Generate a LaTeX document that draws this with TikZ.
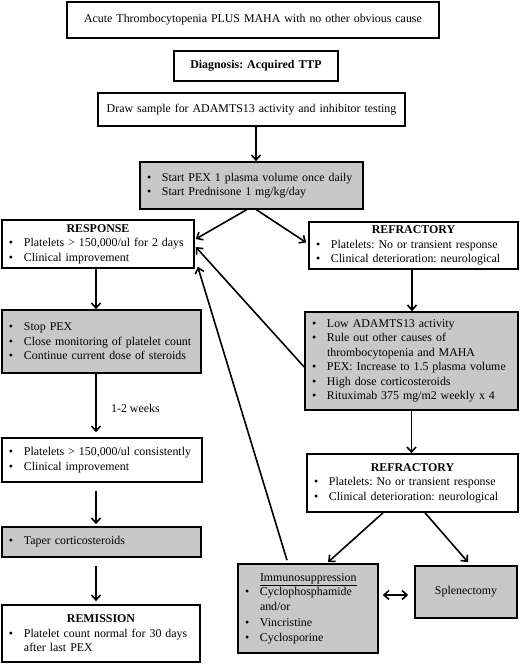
\documentclass[tikz,border=0pt]{standalone}
\usepackage{fontspec}
\setmainfont{Liberation Serif}
\usetikzlibrary{arrows.meta}
\definecolor{boxgray}{HTML}{C8C8C8}
\newcommand\bu[1]{\makebox[\linewidth][l]{\makebox[15pt][l]{\textbullet}#1}}
\newcommand\cont[1]{\makebox[\linewidth][l]{\hspace*{15pt}#1}}
\frenchspacing
\begin{document}
\begin{tikzpicture}[x=1pt,y=1pt,
  base/.style={font=\fontsize{11.9}{14.5}\selectfont},
  box/.style={base, draw, line width=1.6pt, inner xsep=7pt, inner ysep=0pt, align=left},
  gbox/.style={box, fill=boxgray},
  arr/.style={line width=1.6pt, -{Straight Barb[length=5pt,width=9pt]}},
  darr/.style={line width=1.6pt, {Straight Barb[length=5pt,width=9pt]}-{Straight Barb[length=5pt,width=9pt]}}]
\useasboundingbox (0,0) rectangle (520,-665);

\node[box, align=center, minimum width=372, minimum height=36, text width=358] (top) at (253,-20) {\mbox{Acute Thrombocytopenia PLUS MAHA with no other obvious cause}};
\node[box, align=center, minimum width=164, minimum height=30, text width=150] (diag) at (256,-66) {\mbox{\textbf{Diagnosis: Acquired TTP}}};
\node[box, align=center, minimum width=307, minimum height=33, text width=293] (sample) at (251.5,-109.5) {\mbox{Draw sample for ADAMTS13 activity and inhibitor testing}};

\node[gbox, minimum width=223, minimum height=47, text width=209] (pex) at (251.5,-185.5) {\bu{Start PEX 1 plasma volume once daily}\\ \bu{Start Prednisone 1 mg/kg/day}};

\node[box, minimum width=192, minimum height=48, text width=178] (resp) at (98,-244) {\makebox[\linewidth]{\textbf{RESPONSE}}\\ \bu{Platelets > 150,000/ul for 2 days}\\ \bu{Clinical improvement}};

\node[box, minimum width=209, minimum height=47, text width=195] (ref1) at (413.5,-245.5) {\makebox[\linewidth]{\textbf{REFRACTORY}}\\ \bu{Platelets: No or transient response}\\ \bu{Clinical deterioration: neurological}};

\node[gbox, minimum width=199, minimum height=63, text width=185] (stop) at (101.5,-341.5) {\bu{Stop PEX}\\ \bu{Close monitoring of platelet count}\\ \bu{Continue current dose of steroids}};

\node[box, minimum width=200, minimum height=44, text width=186] (plat) at (102,-460) {\bu{Platelets > 150,000/ul consistently}\\ \bu{Clinical improvement}};

\node[gbox, minimum width=199, minimum height=30, text width=185] (taper) at (101.5,-542) {\bu{Taper corticosteroids}};

\node[box, minimum width=198, minimum height=57, text width=184] (remis) at (101,-633.5) {\makebox[\linewidth]{\textbf{REMISSION}}\\ \bu{Platelet count normal for 30 days}\\ \cont{after last PEX}};

\node[gbox, minimum width=213, minimum height=98, text width=199] (low) at (411.5,-361) {\bu{Low ADAMTS13 activity}\\ \bu{Rule out other causes of}\\ \cont{thrombocytopenia and MAHA}\\ \bu{PEX: Increase to 1.5 plasma volume}\\ \bu{High dose corticosteroids}\\ \bu{Rituximab 375 mg/m2 weekly x 4}};

\node[box, minimum width=211, minimum height=58, text width=197] (ref2) at (412.5,-483) {\makebox[\linewidth]{\textbf{REFRACTORY}}\\ \bu{Platelets: No or transient response}\\ \bu{Clinical deterioration: neurological}};

\node[gbox, minimum width=140, minimum height=89, text width=126] (immuno) at (308,-608.5) {\cont{\underline{Immunosuppression}}\\ \bu{Cyclophosphamide}\\ \cont{and/or}\\[2pt] \bu{Vincristine}\\ \bu{Cyclosporine}};

\node[gbox, align=center, minimum width=102, minimum height=52, text width=88] (splen) at (466,-592) {Splenectomy};

\coordinate (lc) at (96,0);

\draw[arr] ([xshift=4.5pt]sample.south) -- ([xshift=4.5pt]sample.south |- pex.north);
\draw[arr] ([xshift=-5pt]pex.south) -- ([xshift=1pt,yshift=5pt]resp.east);
\draw[arr] ([xshift=5pt]pex.south) -- ([xshift=-2pt,yshift=3pt]ref1.west);
\draw[arr] ([xshift=-1.5pt]ref1.south) -- ([xshift=-1.5pt]ref1.south |- low.north);
\draw[arr] (low.south) -- (low.south |- ref2.north);
\draw[arr] ([xshift=-29.5pt]ref2.south) -- ([xshift=20pt,yshift=1pt]immuno.north);
\draw[arr] ([xshift=12.5pt]ref2.south) -- ([xshift=2pt,yshift=3pt]splen.north);
\draw[darr] ([xshift=4pt,yshift=13.5pt]immuno.east) -- ([xshift=-6pt,yshift=-3pt]splen.west);
\draw[arr] ([xshift=-21pt,yshift=3pt]immuno.north) -- ([xshift=3pt,yshift=2pt]resp.south east);
\draw[arr] ([yshift=-6pt]low.west) -- ([xshift=1pt,yshift=-3pt]resp.east);

\draw[arr] (lc |- resp.south) -- (lc |- stop.north);
\draw[arr] (lc |- stop.south) -- node[base, pos=0.6, anchor=west, xshift=11pt]{1-2 weeks} ([yshift=5pt]lc |- plat.north);
\draw[arr] ([yshift=-8pt]lc |- plat.south) -- ([yshift=2pt]lc |- taper.north);
\draw[arr] ([yshift=-8pt]lc |- taper.south) -- ([yshift=3pt]lc |- remis.north);
\end{tikzpicture}
\end{document}
